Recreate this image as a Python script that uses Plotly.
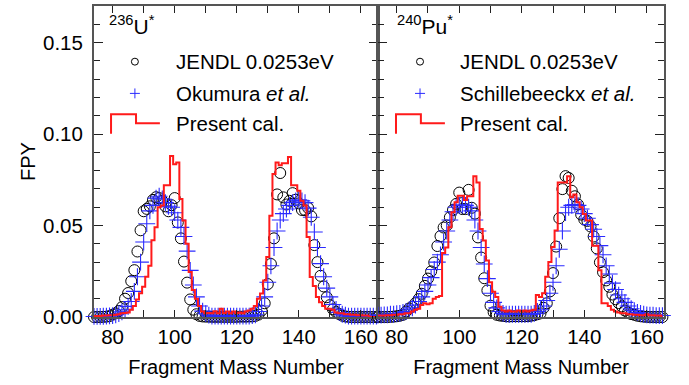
import plotly.graph_objects as go

# ---------------- data ----------------
mass = list(range(74, 166))

u_jendl = [0.0000, 0.0000, 0.0000, 0.0001, 0.0002, 0.0005, 0.0013, 0.0020, 0.0033, 0.0054,
           0.0100, 0.0131, 0.0196, 0.0256, 0.0358, 0.0474, 0.0578, 0.0591, 0.0605, 0.0640,
           0.0655, 0.0650, 0.0635, 0.0605, 0.0578, 0.0611, 0.0650, 0.0517, 0.0430, 0.0303,
           0.0188, 0.0096, 0.0040, 0.0015, 0.0006, 0.0003, 0.0002, 0.0002, 0.0001, 0.0001,
           0.0001, 0.0001, 0.0001, 0.0001, 0.0001, 0.0001, 0.0001, 0.0002, 0.0002, 0.0002,
           0.0003, 0.0003, 0.0006, 0.0013, 0.0035, 0.0075, 0.0180, 0.0290, 0.0430, 0.0670,
           0.0787, 0.0654, 0.0615, 0.0635, 0.0677, 0.0641, 0.0621, 0.0585, 0.0584, 0.0596,
           0.0550, 0.0393, 0.0300, 0.0225, 0.0167, 0.0108, 0.0065, 0.0042, 0.0027, 0.0016,
           0.0007, 0.0003, 0.0001, 0.0000, 0.0000, 0.0000, 0.0000, 0.0000, 0.0000, 0.0000,
           0.0000, 0.0000]

u_okumura = [0.0003, 0.0003, 0.0003, 0.0004, 0.0005, 0.0006, 0.0008, 0.0012, 0.0018, 0.0028,
             0.0040, 0.0058, 0.0085, 0.0140, 0.0220, 0.0300, 0.0410, 0.0510, 0.0580, 0.0610,
             0.0650, 0.0660, 0.0645, 0.0625, 0.0605, 0.0600, 0.0570, 0.0530, 0.0490, 0.0440,
             0.0360, 0.0255, 0.0175, 0.0110, 0.0060, 0.0032, 0.0018, 0.0010, 0.0005, 0.0005,
             0.0005, 0.0005, 0.0005, 0.0005, 0.0005, 0.0005, 0.0005, 0.0005, 0.0005, 0.0005,
             0.0005, 0.0007, 0.0012, 0.0030, 0.0060, 0.0110, 0.0190, 0.0280, 0.0380, 0.0470,
             0.0530, 0.0565, 0.0590, 0.0610, 0.0625, 0.0635, 0.0640, 0.0635, 0.0625, 0.0595,
             0.0545, 0.0465, 0.0380, 0.0292, 0.0220, 0.0158, 0.0110, 0.0068, 0.0042, 0.0025,
             0.0015, 0.0010, 0.0005, 0.0005, 0.0005, 0.0005, 0.0005, 0.0005, 0.0005, 0.0005,
             0.0005, 0.0005]

u_calc = [0.0005, 0.0005, 0.0005, 0.0008, 0.0008, 0.0010, 0.0010, 0.0012, 0.0015, 0.0020,
          0.0022, 0.0025, 0.0040, 0.0060, 0.0096, 0.0130, 0.0165, 0.0220, 0.0280, 0.0420,
          0.0490, 0.0600, 0.0610, 0.0720, 0.0720, 0.0880, 0.0835, 0.0845, 0.0645, 0.0527,
          0.0400, 0.0246, 0.0147, 0.0100, 0.0060, 0.0030, 0.0020, 0.0022, 0.0020, 0.0032,
          0.0020, 0.0045, 0.0022, 0.0030, 0.0020, 0.0030, 0.0022, 0.0025, 0.0020, 0.0030,
          0.0035, 0.0045, 0.0060, 0.0100, 0.0129, 0.0200, 0.0328, 0.0554, 0.0781, 0.0844,
          0.0830, 0.0840, 0.0840, 0.0875, 0.0720, 0.0720, 0.0690, 0.0636, 0.0610, 0.0437,
          0.0219, 0.0170, 0.0110, 0.0080, 0.0060, 0.0045, 0.0045, 0.0040, 0.0025, 0.0020,
          0.0020, 0.0015, 0.0015, 0.0012, 0.0012, 0.0010, 0.0010, 0.0008, 0.0008, 0.0005,
          0.0005, 0.0005]

pu_jendl = [0.0000, 0.0000, 0.0000, 0.0000, 0.0001, 0.0002, 0.0004, 0.0007, 0.0012, 0.0030,
            0.0047, 0.0056, 0.0076, 0.0098, 0.0127, 0.0170, 0.0210, 0.0249, 0.0298, 0.0388,
            0.0442, 0.0489, 0.0500, 0.0545, 0.0585, 0.0618, 0.0680, 0.0590, 0.0590, 0.0695,
            0.0597, 0.0565, 0.0435, 0.0325, 0.0212, 0.0145, 0.0062, 0.0026, 0.0012, 0.0008,
            0.0006, 0.0004, 0.0003, 0.0004, 0.0004, 0.0004, 0.0004, 0.0004, 0.0005, 0.0007,
            0.0010, 0.0015, 0.0020, 0.0050, 0.0075, 0.0140, 0.0240, 0.0385, 0.0540, 0.0699,
            0.0770, 0.0760, 0.0690, 0.0660, 0.0615, 0.0560, 0.0533, 0.0525, 0.0495, 0.0440,
            0.0375, 0.0299, 0.0245, 0.0200, 0.0165, 0.0123, 0.0097, 0.0076, 0.0058, 0.0035,
            0.0026, 0.0016, 0.0012, 0.0007, 0.0004, 0.0002, 0.0001, 0.0000, 0.0000, 0.0000,
            0.0000, 0.0000]

pu_schill = [0.0010, 0.0010, 0.0012, 0.0012, 0.0015, 0.0015, 0.0018, 0.0020, 0.0025, 0.0030,
             0.0040, 0.0050, 0.0065, 0.0085, 0.0110, 0.0140, 0.0175, 0.0215, 0.0260, 0.0300,
             0.0340, 0.0410, 0.0470, 0.0530, 0.0575, 0.0600, 0.0610, 0.0612, 0.0610, 0.0600,
             0.0580, 0.0530, 0.0470, 0.0380, 0.0290, 0.0210, 0.0130, 0.0080, 0.0050, 0.0030,
             0.0020, 0.0015, 0.0015, 0.0015, 0.0015, 0.0015, 0.0015, 0.0015, 0.0015, 0.0015,
             0.0020, 0.0030, 0.0040, 0.0060, 0.0090, 0.0130, 0.0190, 0.0280, 0.0370, 0.0470,
             0.0570, 0.0600, 0.0610, 0.0614, 0.0610, 0.0590, 0.0565, 0.0540, 0.0505, 0.0480,
             0.0440, 0.0390, 0.0340, 0.0280, 0.0235, 0.0185, 0.0150, 0.0120, 0.0100, 0.0080,
             0.0060, 0.0045, 0.0035, 0.0025, 0.0020, 0.0015, 0.0012, 0.0010, 0.0010, 0.0008,
             0.0008, 0.0008]

pu_calc = [0.0008, 0.0008, 0.0008, 0.0010, 0.0010, 0.0012, 0.0012, 0.0015, 0.0015, 0.0020,
           0.0020, 0.0030, 0.0040, 0.0045, 0.0065, 0.0075, 0.0070, 0.0075, 0.0100, 0.0110,
           0.0115, 0.0350, 0.0380, 0.0490, 0.0573, 0.0627, 0.0663, 0.0663, 0.0640, 0.0660,
           0.0660, 0.0770, 0.0735, 0.0481, 0.0418, 0.0309, 0.0190, 0.0138, 0.0110, 0.0056,
           0.0035, 0.0030, 0.0035, 0.0030, 0.0030, 0.0035, 0.0030, 0.0035, 0.0030, 0.0035,
           0.0040, 0.0120, 0.0110, 0.0130, 0.0220, 0.0300, 0.0382, 0.0473, 0.0735, 0.0735,
           0.0735, 0.0770, 0.0655, 0.0670, 0.0627, 0.0600, 0.0563, 0.0527, 0.0527, 0.0390,
           0.0390, 0.0255, 0.0075, 0.0075, 0.0060, 0.0040, 0.0030, 0.0025, 0.0020, 0.0020,
           0.0015, 0.0015, 0.0012, 0.0012, 0.0010, 0.0010, 0.0015, 0.0010, 0.0010, 0.0008,
           0.0008, 0.0005]

x_ticks = [80, 100, 120, 140, 160]
y_ticks = [0.00, 0.05, 0.10, 0.15]

panels = [
    dict(iso="<sup>236</sup>U<sup>*</sup>", ref="Okumura <i>et al.</i>",
         jendl=u_jendl, exp=u_okumura, calc=u_calc),
    dict(iso="<sup>240</sup>Pu<sup>*</sup>", ref="Schillebeeckx <i>et al.</i>",
         jendl=pu_jendl, exp=pu_schill, calc=pu_calc),
]

FONT = "Liberation Sans, Arial, Helvetica, sans-serif"
BLUE = "#2b2bff"
RED = "#ff1a1a"
TICK_SIZE = 20.5
TITLE_SIZE = 20
LEG_SIZE = 20.5

fig = go.Figure()
for i, p in enumerate(panels):
    xa = "x" if i == 0 else "x2"
    ya = "y" if i == 0 else "y2"
    fig.add_trace(go.Scatter(x=mass, y=p["jendl"], mode="markers", xaxis=xa, yaxis=ya,
                             marker=dict(symbol="circle-open", size=11, color="black",
                                         line=dict(width=1, color="black")),
                             showlegend=False, cliponaxis=False))
    fig.add_trace(go.Scatter(x=mass, y=p["exp"], mode="markers", xaxis=xa, yaxis=ya,
                             marker=dict(symbol="cross-thin-open", size=12, color=BLUE,
                                         line=dict(width=1.1, color=BLUE)),
                             showlegend=False, cliponaxis=False))
    fig.add_trace(go.Scatter(x=mass, y=p["calc"], mode="lines", xaxis=xa, yaxis=ya,
                             line=dict(shape="hvh", color=RED, width=2),
                             showlegend=False))

axis_common = dict(showline=True, linecolor="#555555", linewidth=2, mirror="allticks",
                   ticks="inside", tickcolor="#222222", tickwidth=1, showgrid=False,
                   zeroline=False, tickfont=dict(family=FONT, size=TICK_SIZE, color="black"))

fig.update_layout(
    width=689, height=385,
    margin=dict(l=94, r=25, t=4, b=68),
    paper_bgcolor="white", plot_bgcolor="white",
    font=dict(family=FONT, color="black"),
    xaxis=dict(domain=[0, 0.4982], range=[74, 165.5], tickvals=x_ticks, ticklen=7,
               minor=dict(dtick=10, tick0=0, ticklen=7, ticks="inside", tickcolor="#222222"),
               title=dict(text="Fragment Mass Number", font=dict(family=FONT, size=TITLE_SIZE),
                          standoff=13),
               anchor="y", **axis_common),
    xaxis2=dict(domain=[0.4982, 1], range=[74, 165.5], tickvals=x_ticks, ticklen=7,
                minor=dict(dtick=10, tick0=0, ticklen=7, ticks="inside", tickcolor="#222222"),
                title=dict(text="Fragment Mass Number", font=dict(family=FONT, size=TITLE_SIZE),
                           standoff=13),
                anchor="y2", **axis_common),
    yaxis=dict(domain=[0, 1], range=[0, 0.17], tickvals=y_ticks, tickformat=".2f", ticklen=9,
               minor=dict(dtick=0.01, ticklen=6, ticks="inside", tickcolor="#222222"),
               title=dict(text="FPY", font=dict(family=FONT, size=TITLE_SIZE), standoff=2),
               anchor="x", ticklabelstandoff=5, **axis_common),
    yaxis2=dict(domain=[0, 1], range=[0, 0.17], tickvals=y_ticks, ticklen=9,
                minor=dict(dtick=0.01, ticklen=6, ticks="inside", tickcolor="#222222"),
                showticklabels=False, anchor="x2", **axis_common),
)

# ------------- in-panel legends (domain coordinates) -------------
leg_x = [dict(iso=0.046, sym=0.144, txt=0.282, s0=0.060, s1=0.148, s2=0.232),
         dict(iso=0.060, sym=0.147, txt=0.280, s0=0.063, s1=0.150, s2=0.234)]
row_y = dict(iso=0.940, jendl=0.821, exp=0.719, calc=0.623)
shapes = []
annotations = []
for i, p in enumerate(panels):
    xr = "x domain" if i == 0 else "x2 domain"
    yr = "y domain" if i == 0 else "y2 domain"
    L = leg_x[i]
    annotations.append(dict(x=L["iso"], y=row_y["iso"], xref=xr, yref=yr, text=p["iso"],
                            showarrow=False, xanchor="left", yanchor="middle",
                            font=dict(family=FONT, size=21, color="black")))
    for key, txt in (("jendl", "JENDL 0.0253eV"), ("exp", p["ref"]), ("calc", "Present cal.")):
        annotations.append(dict(x=L["txt"], y=row_y[key], xref=xr, yref=yr, text=txt,
                                showarrow=False, xanchor="left", yanchor="middle",
                                font=dict(family=FONT, size=LEG_SIZE, color="black")))
    dx = 3.5 / 285
    dy = 3.5 / 313
    shapes.append(dict(type="circle", xref=xr, yref=yr, x0=L["sym"] - dx, x1=L["sym"] + dx,
                       y0=row_y["jendl"] - dy, y1=row_y["jendl"] + dy,
                       line=dict(color="black", width=1)))
    ex = 5 / 285
    ey = 5 / 313
    shapes.append(dict(type="line", xref=xr, yref=yr, x0=L["sym"] - ex, x1=L["sym"] + ex,
                       y0=row_y["exp"], y1=row_y["exp"], line=dict(color=BLUE, width=1)))
    shapes.append(dict(type="line", xref=xr, yref=yr, x0=L["sym"], x1=L["sym"],
                       y0=row_y["exp"] - ey, y1=row_y["exp"] + ey, line=dict(color=BLUE, width=1)))
    y_lo, y_hi, y_mid = 0.589, 0.652, 0.623
    path = (f"M {L['s0']} {y_lo} L {L['s0']} {y_hi} L {L['s1']} {y_hi} "
            f"L {L['s1']} {y_mid} L {L['s2']} {y_mid}")
    shapes.append(dict(type="path", xref=xr, yref=yr, path=path,
                       line=dict(color=RED, width=2)))

fig.update_layout(shapes=shapes, annotations=annotations)
fig.write_html("out.html")
